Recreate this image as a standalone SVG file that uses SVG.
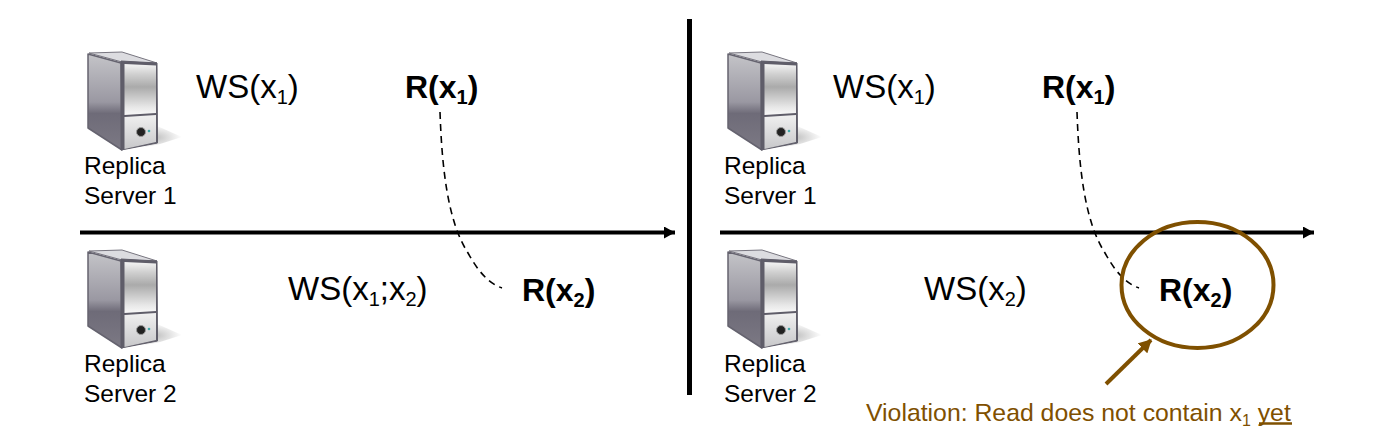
<svg xmlns="http://www.w3.org/2000/svg" width="1386" height="448" viewBox="0 0 1386 448">
<style>
text{font-family:"Liberation Sans",Arial,sans-serif;fill:#000}
.l{font-size:24.5px}
.w{font-size:33px}
.r{font-size:32px;font-weight:bold}
.v{font-size:24.8px;fill:#7f5000}
.axis{stroke:#000;stroke-width:4;fill:none;marker-end:url(#ah)}
.dash{stroke:#000;stroke-width:1.6;fill:none;stroke-dasharray:7 5}
</style>
<defs>
<marker id="ah" markerUnits="userSpaceOnUse" markerWidth="12" markerHeight="12" refX="11" refY="6" orient="auto"><path d="M0 0L11 6L0 12z" fill="#000"/></marker>
<marker id="bh" markerUnits="userSpaceOnUse" markerWidth="14" markerHeight="14" refX="12" refY="7" orient="auto"><path d="M0 0L13 7L0 14z" fill="#7f5000"/></marker>
<linearGradient id="sd" x1="0" y1="0" x2="0" y2="1"><stop offset="0" stop-color="#c4c4c8"/><stop offset=".5" stop-color="#9a98a2"/><stop offset=".62" stop-color="#6e6b78"/><stop offset="1" stop-color="#7c7984"/></linearGradient>
<linearGradient id="fr" x1="0" y1="0" x2="0" y2="1"><stop offset="0" stop-color="#f4f4f4"/><stop offset=".2" stop-color="#d0d0d0"/><stop offset=".45" stop-color="#aaaaaa"/><stop offset=".85" stop-color="#e8e8e8"/><stop offset="1" stop-color="#f8f8f8"/></linearGradient>
<linearGradient id="lo" x1="0" y1="0" x2="0" y2="1"><stop offset="0" stop-color="#f0f0f0"/><stop offset="1" stop-color="#c8c8ca"/></linearGradient>
<radialGradient id="shd"><stop offset="0" stop-color="#999" stop-opacity=".6"/><stop offset="1" stop-color="#999" stop-opacity="0"/></radialGradient>
<symbol id="srv" width="110" height="110" viewBox="80 45 110 110" overflow="visible">
<path d="M155 125L182 137L160 144L130 150z" fill="url(#shd)"/>
<path d="M89 53L122 52L157 63L122 62z" fill="#dcdce0" stroke="#77757f" stroke-width="1"/>
<path d="M88 54L121 63L122 150L88 128z" fill="url(#sd)" stroke="#65636f" stroke-width="1.5" stroke-linejoin="round"/>
<path d="M121 61L157 63L157.500 143L121 150z" fill="#5f5d69" stroke="#5f5d69" stroke-linejoin="round"/>
<path d="M124.500 64L156 65.500L156 113L124.500 115z" fill="url(#fr)"/>
<path d="M124.500 117L156 115L156 142L124.500 149z" fill="url(#lo)"/>
<circle cx="141" cy="132" r="4.500" fill="#222" stroke="#999" stroke-width="1"/>
<circle cx="149" cy="131" r="1.300" fill="#4aa"/>
</symbol>
</defs>
<g id="divider"><rect x="687" y="19" width="5" height="376" fill="#000"/></g>
<g id="connectors">
<path class="axis" d="M80 232.500H675"/>
<path class="axis" d="M720 232.500H1314"/>
<path class="dash" d="M440 112C442 170 448 222 468 253C478 271 488 283 502 288"/>
<path class="dash" d="M1077 112C1079 170 1085 222 1105 253C1115 271 1125 283 1139 288"/>
<path d="M1106 384L1151 340" stroke="#7f5000" stroke-width="4" fill="none" marker-end="url(#bh)"/>
</g>
<g id="server-1a"><use href="#srv" x="80" y="45"/><text class="l" x="84" y="174">Replica</text><text class="l" x="84" y="204">Server 1</text></g>
<g id="server-2a"><use href="#srv" x="80" y="243"/><text class="l" x="84" y="372">Replica</text><text class="l" x="84" y="402">Server 2</text></g>
<g id="server-1b"><use href="#srv" x="720" y="45"/><text class="l" x="724" y="174">Replica</text><text class="l" x="724" y="204">Server 1</text></g>
<g id="server-2b"><use href="#srv" x="720" y="243"/><text class="l" x="724" y="372">Replica</text><text class="l" x="724" y="402">Server 2</text></g>
<g id="ws-1a"><text class="w" x="196" y="98">WS(x<tspan font-size="20" dy="6">1</tspan><tspan dy="-6">)</tspan></text></g>
<g id="r-1a"><text class="r" x="405" y="98">R(x<tspan font-size="20" dy="6">1</tspan><tspan dy="-6">)</tspan></text></g>
<g id="ws-2a"><text class="w" x="288" y="300">WS(x<tspan font-size="20" dy="6">1</tspan><tspan dy="-6">;x</tspan><tspan font-size="20" dy="6">2</tspan><tspan dy="-6">)</tspan></text></g>
<g id="r-2a"><text class="r" x="522" y="301">R(x<tspan font-size="20" dy="6">2</tspan><tspan dy="-6">)</tspan></text></g>
<g id="ws-1b"><text class="w" x="833" y="98">WS(x<tspan font-size="20" dy="6">1</tspan><tspan dy="-6">)</tspan></text></g>
<g id="r-1b"><text class="r" x="1042" y="98">R(x<tspan font-size="20" dy="6">1</tspan><tspan dy="-6">)</tspan></text></g>
<g id="ws-2b"><text class="w" x="924" y="300">WS(x<tspan font-size="20" dy="6">2</tspan><tspan dy="-6">)</tspan></text></g>
<g id="r-2b"><text class="r" x="1159" y="301">R(x<tspan font-size="20" dy="6">2</tspan><tspan dy="-6">)</tspan></text></g>
<g id="violation-circle"><ellipse cx="1197.500" cy="285" rx="76" ry="63" fill="none" stroke="#7f5000" stroke-width="4"/></g>
<g id="violation-note"><text class="v" x="866" y="421">Violation: Read does not contain x<tspan font-size="16" dy="5">1</tspan><tspan dy="-5"> </tspan><tspan>yet</tspan></text><path d="M1259 423.500H1292" stroke="#7f5000" stroke-width="2.500"/></g>
</svg>
